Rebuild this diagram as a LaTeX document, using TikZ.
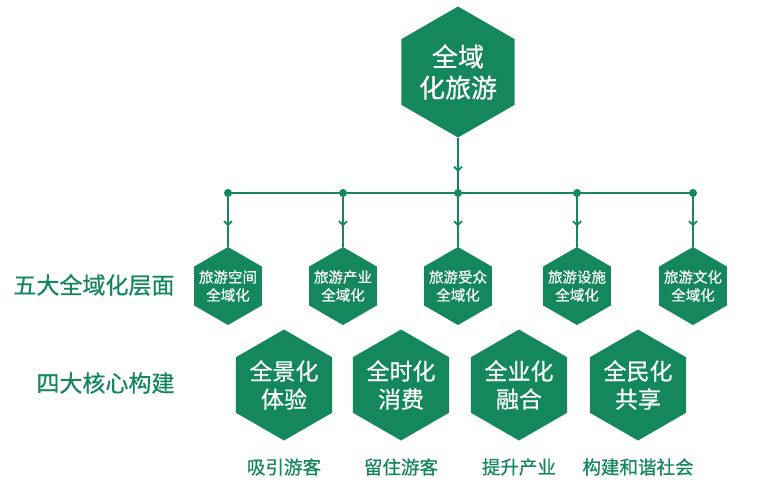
\documentclass[tikz,border=0pt]{standalone}
\usepackage{fontspec}
\setmainfont{Noto Sans CJK SC}[FakeBold=0.6]
\usetikzlibrary{shapes.geometric,arrows.meta,decorations.markings}
\definecolor{gr}{RGB}{20,135,92}
\tikzset{
  hexshape/.style={regular polygon, regular polygon sides=6, shape border rotate=30,
    fill=gr, draw=none, inner sep=0pt, outer sep=0pt},
  hexbig/.style={hexshape, minimum size=131pt},
  hexsmall/.style={hexshape, minimum size=78pt},
  hexmid/.style={hexshape, minimum size=111pt},
  intext/.style={text=white, align=center},
  dotnode/.style={circle, fill=gr, minimum size=8pt, inner sep=0pt},
  conn/.style={draw=gr, line width=1.8pt},
  midarrow/.style={decoration={markings, mark=at position 0.62 with {\arrow[gr]{Straight Barb[length=4pt,width=8pt]}}}, postaction=decorate},
  sidelabel/.style={text=gr, font=\fontsize{23}{27}\selectfont, anchor=east},
  botlabel/.style={text=gr, font=\fontsize{18.5}{22}\selectfont}
}
\begin{document}
\begin{tikzpicture}[x=1pt,y=-1pt]
\fill[white] (0,0) rectangle (766,500);
\useasboundingbox (0,0) rectangle (766,500);

% top hexagon
\node[hexbig, label={[intext,font=\fontsize{26}{31}\selectfont]center:全域\\化旅游}] (top) at (458,72) {};

% bar dots
\node[dotnode] (d1) at (228,193) {};
\node[dotnode] (d2) at (343,193) {};
\node[dotnode] (d3) at (458,193) {};
\node[dotnode] (d4) at (577,193) {};
\node[dotnode] (d5) at (693,193) {};

% small hexagons
\foreach \n/\x/\t in {1/228/旅游空间, 2/343/旅游产业, 3/458/旅游受众, 4/577/旅游设施, 5/693/旅游文化}{
  \node[hexsmall, label={[intext,font=\fontsize{14.5}{18}\selectfont]center:\t\\全域化}] (s\n) at (\x,286) {};
}

% connectors
\draw[conn, midarrow] (top.south) -- (d3.center);
\draw[conn] (d1.center) -- (d5.center);
\foreach \n in {1,...,5}{
  \draw[conn, midarrow] (d\n.center) -- (s\n.north);
}

% bottom hexagons
\node[hexmid, label={[intext,font=\fontsize{23}{28}\selectfont]center:全景化\\体验}] (b1) at (284,385) {};
\node[hexmid, label={[intext,font=\fontsize{23}{28}\selectfont]center:全时化\\消费}] (b2) at (401,385) {};
\node[hexmid, label={[intext,font=\fontsize{23}{28}\selectfont]center:全业化\\融合}] (b3) at (519,385) {};
\node[hexmid, label={[intext,font=\fontsize{23}{28}\selectfont]center:全民化\\共享}] (b4) at (638,385) {};

% bottom labels
\node[botlabel] (l1) at (284,467) {吸引游客};
\node[botlabel] (l2) at (401,467) {留住游客};
\node[botlabel] (l3) at (519,467) {提升产业};
\node[botlabel] (l4) at (638,467) {构建和谐社会};

% side labels
\node[sidelabel] (side1) at (178,285) {五大全域化层面};
\node[sidelabel] (side2) at (178,383) {四大核心构建};
\end{tikzpicture}
\end{document}
